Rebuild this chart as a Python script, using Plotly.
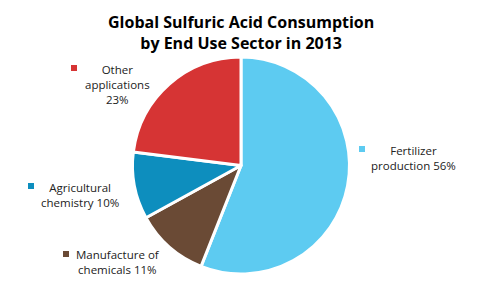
import plotly.graph_objects as go

categories = ["Fertilizer production", "Manufacture of chemicals", "Agricultural chemistry", "Other applications"]
values = [56, 11, 10, 23]
colors = ["#5DCBF1", "#6A4A35", "#0D8EBE", "#D63434"]
label_lines = [
    ["Fertilizer", "production 56%"],
    ["Manufacture of", "chemicals 11%"],
    ["Agricultural", "chemistry 10%"],
    ["Other", "applications", "23%"],
]
# label text centre (x, top-line y) and marker (x, y) in pixels
label_pos = [(413, 150), (118, 254), (80, 187), (117, 68)]
marker_pos = [(362, 149), (66, 254), (31, 186), (74, 68)]

W, H = 482, 289
fig = go.Figure(go.Pie(
    labels=categories, values=values, sort=False, direction="clockwise", rotation=0,
    marker=dict(colors=colors, line=dict(color="white", width=3)),
    textinfo="none", hoverinfo="label+percent", showlegend=False,
    domain=dict(x=[(241 - 109) / W, (241 + 109) / W], y=[1 - 274 / H, 1 - 57 / H]),
))

font = "Open Sans"
ann = [dict(text="<b>Global Sulfuric Acid Consumption<br>by End Use Sector in 2013</b>",
            x=241 / W, y=1 - 32 / H, xref="paper", yref="paper", showarrow=False,
            font=dict(family=font, size=16, color="black"), xanchor="center", yanchor="middle")]
shapes = []
for lines, (lx, ly), (mx, my), c in zip(label_lines, label_pos, marker_pos, colors):
    n = len(lines)
    cy = ly + (n - 1) * 16.5 / 2
    ann.append(dict(text="<br>".join(lines), x=lx / W, y=1 - cy / H, xref="paper", yref="paper",
                    showarrow=False, align="center", xanchor="center", yanchor="middle",
                    font=dict(family=font, size=11.5, color="#222")))
    shapes.append(dict(type="rect", xref="paper", yref="paper",
                       x0=(mx - 3) / W, x1=(mx + 3) / W, y0=1 - (my + 3) / H, y1=1 - (my - 3) / H,
                       fillcolor=c, line=dict(width=0)))

fig.update_layout(width=W, height=H, margin=dict(l=0, r=0, t=0, b=0),
                  paper_bgcolor="white", plot_bgcolor="white",
                  annotations=ann, shapes=shapes)
fig.write_html("out.html")
